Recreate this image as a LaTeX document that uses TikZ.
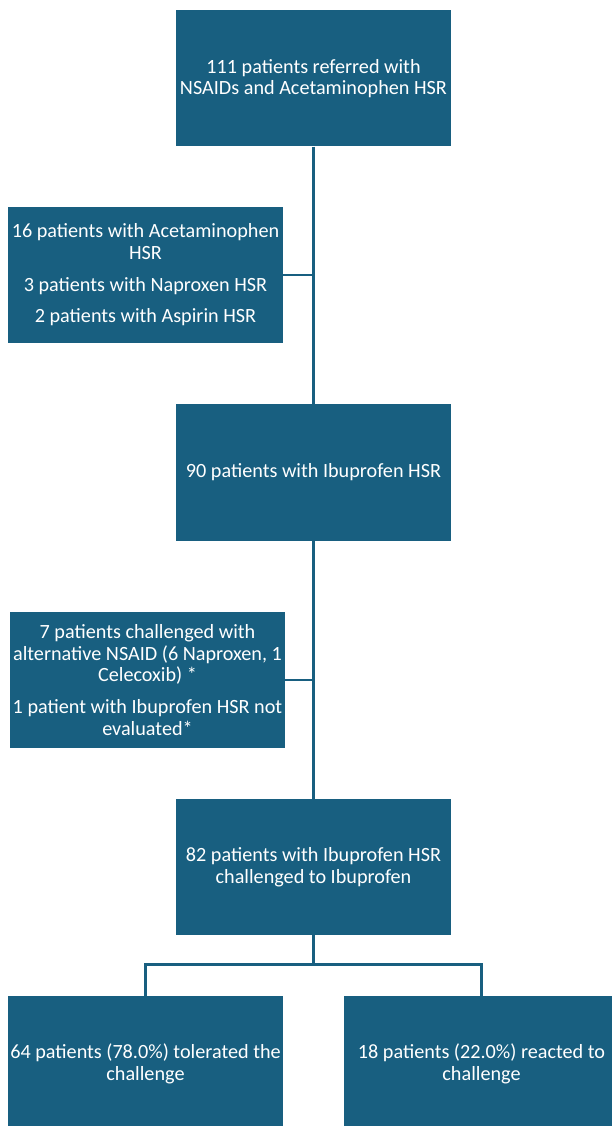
\documentclass[tikz,border=0pt]{standalone}
\usepackage{fontspec}
\setmainfont{Carlito}
\usetikzlibrary{calc}
\definecolor{boxblue}{HTML}{185F80}
\begin{document}
\begin{tikzpicture}[x=1pt,y=-1pt,
  box/.style={fill=boxblue, draw=none, minimum width=275pt, minimum height=136pt,
    text=white, align=center, font=\fontsize{20.2}{21.7}\selectfont, inner sep=1pt},
  conn/.style={draw=boxblue, line width=2.6pt}]
\useasboundingbox (0,0) rectangle (612,1126);
\begin{scope}
\clip (0,0) rectangle (612,1126);
\node[box] (b1) at (313.5,78.5) {111 patients referred with\\NSAIDs and Acetaminophen HSR};
\node[box] (b2) at (145.5,275) {16 patients with Acetaminophen\\HSR\\[10pt]3 patients with Naproxen HSR\\[10pt]2 patients with Aspirin HSR};
\node[box, minimum height=137pt] (b3) at (313.5,472.5) {90 patients with Ibuprofen HSR};
\node[box] (b4) at (147.5,680) {7 patients challenged with\\alternative NSAID (6 Naproxen, 1\\Celecoxib) *\\[10pt]1 patient with Ibuprofen HSR not\\evaluated*};
\node[box] (b5) at (313.5,867) {82 patients with Ibuprofen HSR\\challenged to Ibuprofen};
\node[box] (b6) at (145.5,1064) {64 patients (78.0\%) tolerated the\\challenge};
\node[box] (b7) at (481.5,1064) {18 patients (22.0\%) reacted to\\challenge};
\end{scope}
\coordinate (j1) at (b1.south |- b2.east);
\coordinate (j2) at (b3.south |- b4.east);
\coordinate (j3) at ($(b5.south)+(0,29)$);
\draw[conn] (b1.south) -- (b3.north);
\draw[conn] (b2.east) -- (j1);
\draw[conn] (b3.south) -- (b5.north);
\draw[conn] (b4.east) -- (j2);
\draw[conn] (b5.south) -- (j3) -| (b6.north);
\draw[conn] (j3) -| (b7.north);
\end{tikzpicture}
\end{document}
